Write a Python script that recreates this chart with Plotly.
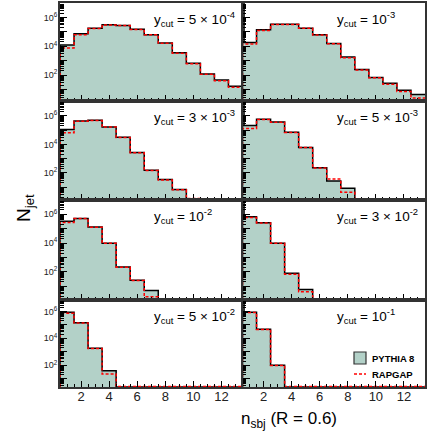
import plotly.graph_objects as go

# ---------------- data ----------------
bins = list(range(1, 14))  # n_sbj bin centres 1..13

ycut_labels = ["5 × 10<sup>-4</sup>", "10<sup>-3</sup>", "3 × 10<sup>-3</sup>", "5 × 10<sup>-3</sup>",
               "10<sup>-2</sup>", "3 × 10<sup>-2</sup>", "5 × 10<sup>-2</sup>", "10<sup>-1</sup>"]

pythia_5e4 = [1.2e4, 7.4e4, 1.8e5, 3.1e5, 2.7e5, 1.5e5, 6.3e4, 1.7e4, 3.5e3, 650, 120, 46, 17]
rapgap_5e4 = [7.6e3, 6.3e4, 1.7e5, 3.0e5, 2.7e5, 1.45e5, 6.2e4, 1.6e4, 3.3e3, 620, 115, 40, 14]

pythia_1e3 = [1.8e4, 1.4e5, 3.3e5, 3.3e5, 1.8e5, 6.3e4, 1.55e4, 1.8e3, 245, 69, 27, 8.7, 4.4]
rapgap_1e3 = [1.45e4, 1.25e5, 3.2e5, 3.2e5, 1.75e5, 6.0e4, 1.5e4, 1.6e3, 220, 66, 23, 7.1, 2.6]

pythia_3e3 = [1.1e5, 4.4e5, 4.9e5, 1.7e5, 3.2e4, 2.7e3, 155, 34, 6.9, 0, 0, 0, 0]
rapgap_3e3 = [6.5e4, 4.2e5, 4.8e5, 1.65e5, 3.1e4, 2.6e3, 150, 32, 6.5, 1.6, 0, 0, 0]

pythia_5e3 = [2.1e5, 5.8e5, 3.7e5, 7.2e4, 6.2e3, 230, 27, 8.5, 0, 0, 0, 0, 0]
rapgap_5e3 = [1.3e5, 5.6e5, 3.6e5, 7.0e4, 6.0e3, 220, 37, 4.4, 0, 0, 0, 0, 0]

pythia_1e2 = [3.2e5, 5.0e5, 1.3e5, 9.8e3, 220, 26, 5.2, 0, 0, 0, 0, 0, 0]
rapgap_1e2 = [2.6e5, 4.9e5, 1.25e5, 9.5e3, 210, 25, 1.9, 0, 0, 0, 0, 0, 0]

pythia_3e2 = [6.5e5, 2.5e5, 9.8e3, 81, 6.0, 0, 0, 0, 0, 0, 0, 0, 0]
rapgap_3e2 = [5.8e5, 2.45e5, 9.5e3, 69, 4.2, 0, 0, 0, 0, 0, 0, 0, 0]

pythia_5e2 = [8.7e5, 1.45e5, 1.8e3, 38, 0, 0, 0, 0, 0, 0, 0, 0, 0]
rapgap_5e2 = [7.4e5, 1.4e5, 1.75e3, 22, 0, 0, 0, 0, 0, 0, 0, 0, 0]

pythia_1e1 = [8.7e5, 4.7e4, 98, 0, 0, 0, 0, 0, 0, 0, 0, 0, 0]
rapgap_1e1 = [8.5e5, 4.6e4, 95, 0, 0, 0, 0, 0, 0, 0, 0, 0, 0]

pythia = [pythia_5e4, pythia_1e3, pythia_3e3, pythia_5e3, pythia_1e2, pythia_3e2, pythia_5e2, pythia_1e1]
rapgap = [rapgap_5e4, rapgap_1e3, rapgap_3e3, rapgap_5e3, rapgap_1e2, rapgap_3e2, rapgap_5e2, rapgap_1e1]

x_tick_vals = [2, 4, 6, 8, 10, 12]
y_label_vals = [1e2, 1e4, 1e6]
y_label_text = ["10<sup>2</sup>", "10<sup>4</sup>", "10<sup>6</sup>"]

# ---------------- layout geometry (pixels) ----------------
W, H = 427, 436
col_px = [(60, 242.5), (242.5, 425)]
row_px = [(3, 101), (101, 200), (200, 300), (300, 387)]
row_range = [(0.2, 7.0), (0.1, 7.05), (0.05, 6.98), (0.37, 6.86)]

FILL = "rgb(179,209,200)"
FRAME = "#333333"
FONT = "Liberation Sans, Arial, Helvetica, sans-serif"

fig = go.Figure()
layout = dict(width=W, height=H, margin=dict(l=0, r=0, t=0, b=0),
              paper_bgcolor="white", plot_bgcolor="white", showlegend=False,
              font=dict(family=FONT, color="#111111"))

edges = [b - 0.5 for b in bins] + [bins[-1] + 0.5]
odd_decades = [10 ** k for k in (1, 3, 5, 7)]
minor_y = [m * 10 ** k for k in range(0, 8) for m in range(2, 10)]

annotations = []
for i in range(8):
    r, c = divmod(i, 2)
    ax = i + 1
    xa = "x" if ax == 1 else f"x{ax}"
    ya = "y" if ax == 1 else f"y{ax}"
    ya2 = f"y{ax + 8}"
    lo, hi = row_range[r]
    bottom = 10 ** lo
    # empty bins sit on the lower frame edge (visible only above the bottom frame)
    floor_r = bottom * (1.10 if r == 3 else 1.0)

    fig.add_trace(go.Bar(x=bins, y=pythia[i], width=1.0, marker=dict(color=FILL, line=dict(width=0)),
                         xaxis=xa, yaxis=ya, hoverinfo="skip"))
    yb = [v if v > 0 else bottom for v in pythia[i]]
    fig.add_trace(go.Scatter(x=[edges[0]] + edges, y=[bottom] + yb + [yb[-1]], mode="lines",
                             line=dict(color="black", width=1.5, shape="hv"),
                             xaxis=xa, yaxis=ya, hoverinfo="skip"))
    yr = [v if v > 0 else floor_r for v in rapgap[i]]
    fig.add_trace(go.Scatter(x=[edges[0]] + edges, y=[bottom] + yr + [yr[-1]], mode="lines",
                             line=dict(color="red", width=1.5, shape="hv", dash="3px,2px"),
                             xaxis=xa, yaxis=ya, hoverinfo="skip"))
    # invisible trace for the overlay axis carrying the odd-decade ticks
    fig.add_trace(go.Scatter(x=[7], y=[1e3], mode="markers", marker=dict(opacity=0),
                             xaxis=xa, yaxis=ya2, hoverinfo="skip"))

    x0, x1 = col_px[c]
    t0, t1 = row_px[r]
    xkey = "xaxis" if ax == 1 else f"xaxis{ax}"
    ykey = "yaxis" if ax == 1 else f"yaxis{ax}"
    xdict = dict(domain=[x0 / W, x1 / W], range=[0.5, 13.5], anchor=ya,
                 showline=True, mirror=True, linecolor=FRAME, linewidth=2,
                 showgrid=False, zeroline=False,
                 ticks="inside", ticklen=6, tickwidth=1, tickcolor="black",
                 minor=dict(tickmode="array", tickvals=[k * 0.5 + 0.5 for k in range(1, 26)],
                            ticks="inside", ticklen=3, tickwidth=1, tickcolor="black"),
                 tickmode="array", tickvals=x_tick_vals)
    if r == 3:
        xdict.update(showticklabels=True, tickfont=dict(size=13, family=FONT, color="#222"),
                     ticklabelstandoff=-4)
    else:
        xdict.update(showticklabels=False)
    layout[xkey] = xdict

    ydict = dict(domain=[1 - t1 / H, 1 - t0 / H], type="log", range=[lo, hi], anchor=xa,
                 showline=True, mirror=True, linecolor=FRAME, linewidth=2,
                 showgrid=False, zeroline=False,
                 ticks="inside", ticklen=7, tickwidth=1, tickcolor="black",
                 minor=dict(tickmode="array", tickvals=minor_y,
                            ticks="inside", ticklen=3.5, tickwidth=1, tickcolor="black"),
                 tickmode="array", tickvals=y_label_vals)
    if c == 0:
        ydict.update(ticktext=y_label_text, showticklabels=True,
                     tickfont=dict(size=9, family=FONT, color="#222"), ticklabelstandoff=-1)
    else:
        ydict.update(showticklabels=False)
    layout[ykey] = ydict

    layout[f"yaxis{ax + 8}"] = dict(domain=[1 - t1 / H, 1 - t0 / H], type="log", range=[lo, hi],
                                    anchor=xa, overlaying=ya, side="left", showline=False,
                                    showgrid=False, zeroline=False,
                                    tickmode="array", tickvals=odd_decades,
                                    ticks="inside", ticklen=7, tickwidth=1, tickcolor="black",
                                    showticklabels=False)

    annotations.append(dict(xref="paper", yref="paper", x=(x0 + 92) / W, y=1 - (t0 + 16) / H,
                            xanchor="left", yanchor="middle", showarrow=False,
                            text="y<sub>cut</sub> = " + ycut_labels[i],
                            font=dict(size=13.5, family=FONT, color="black")))

# axis titles
annotations.append(dict(xref="paper", yref="paper", x=339 / W, y=1 - 420 / H, xanchor="right",
                        yanchor="middle", showarrow=False, text="n<sub>sbj</sub> (R = 0.6)",
                        font=dict(size=17, family=FONT, color="black")))
annotations.append(dict(xref="paper", yref="paper", x=25 / W, y=1 - 208 / H, xanchor="center",
                        yanchor="middle", showarrow=False, text="N<sub>jet</sub>", textangle=-90,
                        font=dict(size=19, family=FONT, color="black")))

# legend (drawn manually in the last panel)
shapes = [
    dict(type="rect", xref="paper", yref="paper", x0=354 / W, x1=366 / W, y0=1 - 364 / H, y1=1 - 352 / H,
         fillcolor=FILL, line=dict(color="#333", width=1.2)),
    dict(type="line", xref="paper", yref="paper", x0=354 / W, x1=366 / W, y0=1 - 374 / H, y1=1 - 374 / H,
         line=dict(color="red", width=1.5, dash="3px,2px")),
]
annotations.append(dict(xref="paper", yref="paper", x=370 / W, y=1 - 358 / H, xanchor="left",
                        yanchor="middle", showarrow=False, text="<b>PYTHIA 8</b>",
                        font=dict(size=9.5, family=FONT, color="black")))
annotations.append(dict(xref="paper", yref="paper", x=370 / W, y=1 - 374 / H, xanchor="left",
                        yanchor="middle", showarrow=False, text="<b>RAPGAP</b>",
                        font=dict(size=9.5, family=FONT, color="black")))

layout["annotations"] = annotations
layout["shapes"] = shapes
layout["bargap"] = 0
fig.update_layout(**layout)
fig.write_html("out.html", config={"displayModeBar": False},
               post_script="document.body.style.margin='0px';")
